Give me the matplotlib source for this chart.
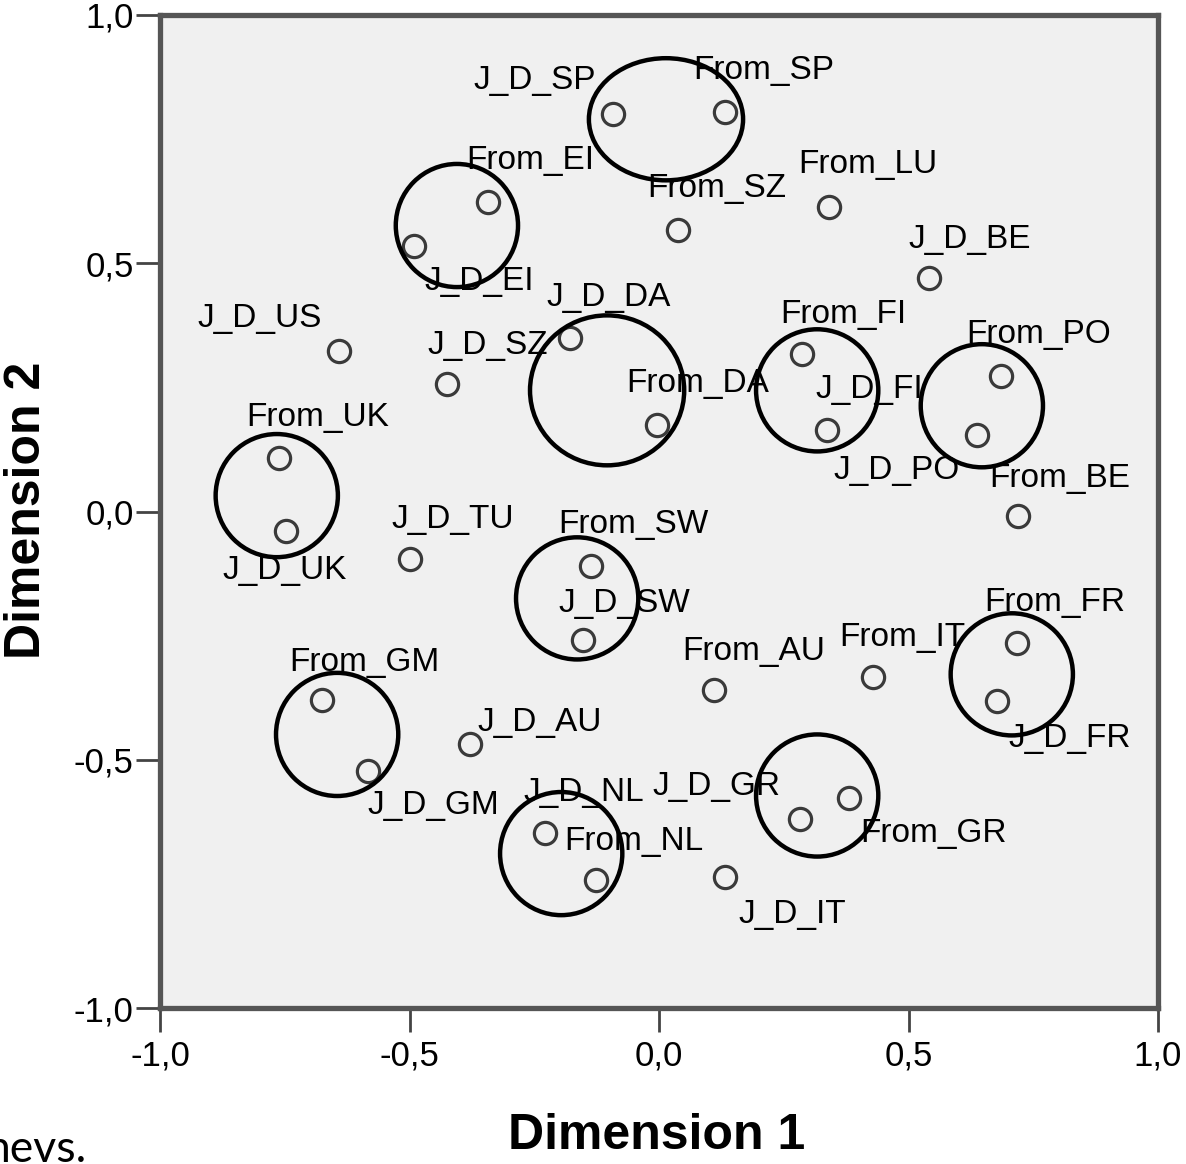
import matplotlib.pyplot as plt
from matplotlib.patches import Ellipse

# object points (dimension 1, dimension 2)
names = ['J_D_SP', 'From_SP', 'From_EI', 'J_D_EI', 'From_SZ', 'From_LU', 'J_D_BE',
         'J_D_US', 'J_D_SZ', 'J_D_DA', 'From_DA', 'From_FI', 'J_D_FI', 'From_PO',
         'J_D_PO', 'From_BE', 'From_UK', 'J_D_UK', 'J_D_TU', 'From_SW', 'J_D_SW',
         'From_FR', 'J_D_FR', 'From_IT', 'From_AU', 'From_GM', 'J_D_AU', 'J_D_GM',
         'J_D_NL', 'J_D_GR', 'From_GR', 'From_NL', 'J_D_IT']
dim1 = [-0.092, 0.132, -0.343, -0.491, 0.038, 0.341, 0.541,
        -0.641, -0.425, -0.178, -0.004, 0.287, 0.337, 0.685,
        0.637, 0.719, -0.762, -0.747, -0.499, -0.136, -0.152,
        0.717, 0.677, 0.429, 0.110, -0.675, -0.379, -0.583,
        -0.228, 0.283, 0.381, -0.126, 0.132]
dim2 = [0.800, 0.804, 0.624, 0.534, 0.566, 0.614, 0.471,
        0.324, 0.256, 0.350, 0.175, 0.318, 0.165, 0.272,
        0.155, -0.010, 0.107, -0.040, -0.095, -0.109, -0.258,
        -0.264, -0.381, -0.334, -0.359, -0.379, -0.469, -0.522,
        -0.647, -0.620, -0.578, -0.743, -0.737]

# hand-drawn group circles: centre x, centre y, width, height
grp_x = [0.014, -0.405, -0.104, 0.317, 0.647, -0.766, -0.164, 0.707, -0.645, -0.196, 0.317]
grp_y = [0.790, 0.576, 0.244, 0.244, 0.213, 0.032, -0.175, -0.328, -0.449, -0.689, -0.572]
grp_w = [0.309, 0.245, 0.309, 0.245, 0.245, 0.245, 0.245, 0.245, 0.245, 0.245, 0.245]
grp_h = [0.246, 0.248, 0.302, 0.246, 0.248, 0.248, 0.246, 0.246, 0.248, 0.248, 0.246]

ticks = [-1.0, -0.5, 0.0, 0.5, 1.0]
tick_labels = ['-1,0', '-0,5', '0,0', '0,5', '1,0']

# label offsets in pixels from each point (x right, y up)
label_offsets = [(-78, 34), (39, 42), (42, 41), (65, -35), (39, 42), (39, 42), (41, 38),
                 (-79, 32), (41, 39), (38, 40), (41, 41), (41, 39), (42, 40), (38, 42),
                 (-80, -36), (42, 38), (39, 41), (-2, -39), (43, 39), (42, 41), (41, 36),
                 (38, 40), (73, -38), (29, 40), (40, 38), (42, 37), (70, 22), (65, -35),
                 (39, 40), (-84, 33), (84, -35), (38, 39), (67, -37)]

plt.rcParams['font.family'] = ['Liberation Sans', 'DejaVu Sans']

fig = plt.figure(figsize=(11.86, 11.64), dpi=100)
ax = fig.add_axes([160 / 1186, 1 - 1008 / 1164, 998 / 1186, 993 / 1164])
ax.set_facecolor('#f0f0f0')

ax.plot(dim1, dim2, 'o', markersize=16, markerfacecolor='none',
        markeredgecolor='#3a3a3a', markeredgewidth=2.3, zorder=3)

for n, x, y, off in zip(names, dim1, dim2, label_offsets):
    ax.annotate(n, (x, y), xytext=off, textcoords='offset pixels',
                ha='center', va='center', fontsize=24, color='black', zorder=4)

for cx, cy, w, h in zip(grp_x, grp_y, grp_w, grp_h):
    ax.add_patch(Ellipse((cx, cy), w, h, fill=False, edgecolor='black',
                         linewidth=3.2, zorder=5))

ax.set_xlim(-1, 1)
ax.set_ylim(-1, 1)
ax.set_xticks(ticks)
ax.set_xticklabels(tick_labels)
ax.set_yticks(ticks)
ax.set_yticklabels(tick_labels)
ax.tick_params(direction='out', length=17, width=2, color='#444444',
               labelsize=25, pad=6)
ax.tick_params(axis='y', pad=2)

for s in ax.spines.values():
    s.set_color('#555555')
    s.set_linewidth(3.8)

fig.text(657 / 1186, 1 - 1136 / 1164, 'Dimension 1', ha='center', va='center',
         fontsize=36, fontweight='bold')
fig.text(27 / 1186, 1 - 510 / 1164, 'Dimension 2', ha='center', va='center',
         fontsize=36, fontweight='bold', rotation=90)
fig.text(-14 / 1186, 1 - 1150 / 1164, 'nevs.', ha='left', va='center',
         fontsize=32, family=['Lato', 'DejaVu Sans'])

fig.savefig('out.png', dpi=100)
